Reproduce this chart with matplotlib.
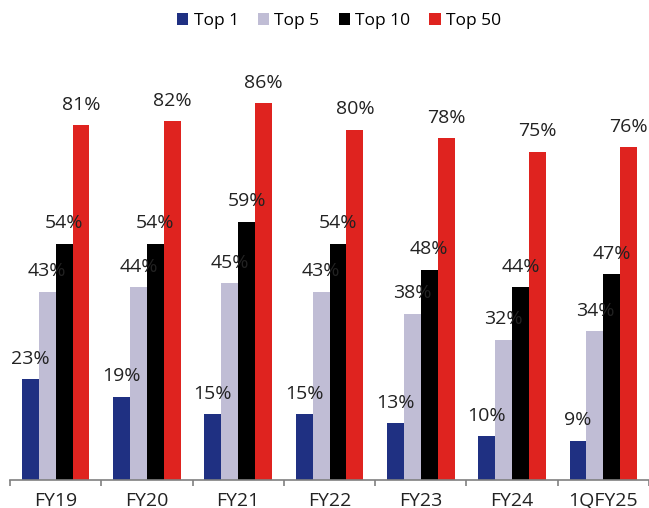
import matplotlib
matplotlib.use("Agg")
import matplotlib.pyplot as plt
import numpy as np

plt.rcParams["font.family"] = ["Open Sans", "DejaVu Sans"]

# ── Data ──────────────────────────────────────────────────────────────────────
periods = ["FY19", "FY20", "FY21", "FY22", "FY23", "FY24", "1QFY25"]
series_names = ["Top 1", "Top 5", "Top 10", "Top 50"]
top1 = [23, 19, 15, 15, 13, 10, 9]
top5 = [43, 44, 45, 43, 38, 32, 34]
top10 = [54, 54, 59, 54, 48, 44, 47]
top50 = [81, 82, 86, 80, 78, 75, 76]

colors = ["#1F3082", "#C0BDD5", "#000000", "#DF231F"]

fig = plt.figure(figsize=(6.49, 5.08), dpi=100)
ax = fig.add_axes([10 / 649, 28 / 508, 639 / 649, 416 / 508])

x = np.arange(len(periods))
w = 0.185
offsets = [-1.5 * w, -0.5 * w, 0.5 * w, 1.5 * w]

handles = []
for vals, name, col, off in zip([top1, top5, top10, top50], series_names, colors, offsets):
    bars = ax.bar(x + off, vals, width=w, color=col, edgecolor="none", label=name)
    handles.append(bars)
    for xi, v in zip(x, vals):
        ax.text(xi + off, v + 2.6, f"{v}%", ha="center", va="bottom",
                fontsize=14, color="#222222")

ax.set_xlim(-0.5, -0.5 + 639 / 92)
ax.set_ylim(0, 95)

for s in ["top", "right", "left"]:
    ax.spines[s].set_visible(False)
ax.spines["bottom"].set_color("#808080")
ax.spines["bottom"].set_linewidth(1.2)
ax.set_yticks([])

ax.set_xticks(x)
ax.set_xticklabels(periods, fontsize=14, color="#222222")
ax.tick_params(axis="x", which="major", length=0, pad=8.5)
ax.set_xticks(np.arange(-0.5, len(periods)), minor=True)
ax.tick_params(axis="x", which="minor", length=4.5, width=1.2, color="#808080")

fig.legend(handles=handles, labels=series_names, loc="upper center",
           bbox_to_anchor=(339 / 649, 1.005), ncol=4, frameon=False,
           fontsize=12.5, handlelength=0.65, handleheight=0.65,
           handletextpad=0.3, columnspacing=1.1)

plt.savefig("out.png", dpi=100)
